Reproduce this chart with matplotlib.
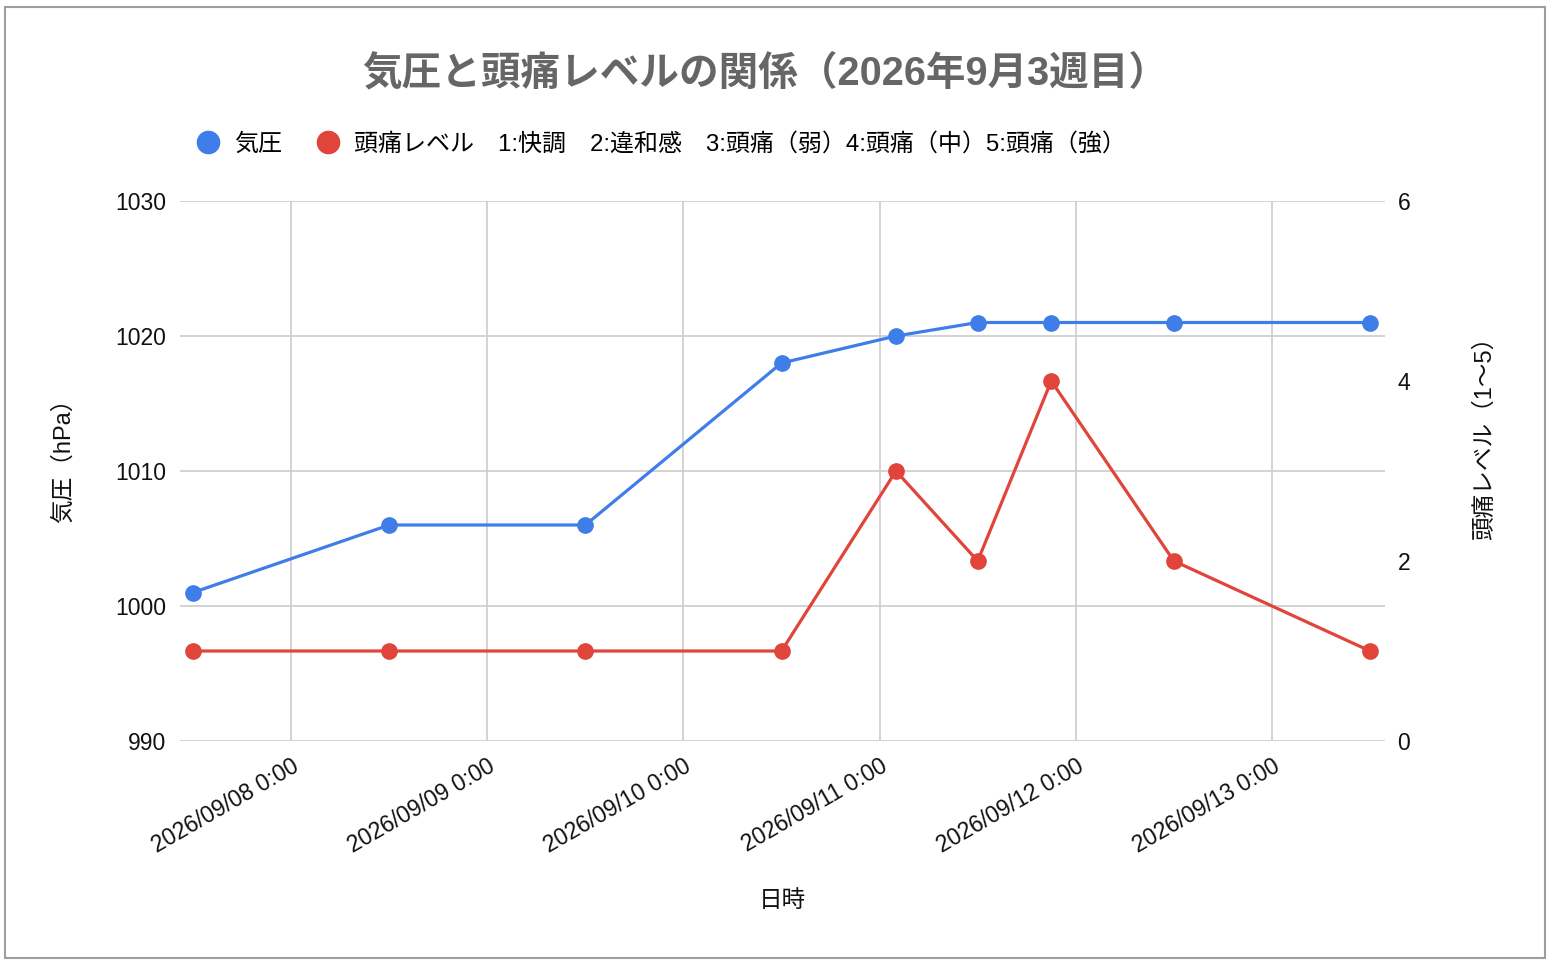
import matplotlib
matplotlib.use("Agg")
import matplotlib.pyplot as plt
import matplotlib.dates as mdates
from matplotlib.lines import Line2D
from matplotlib.patches import Rectangle
from datetime import datetime

plt.rcParams['font.family'] = ['Liberation Sans', 'Noto Sans CJK JP', 'DejaVu Sans']

# data
times = ["2026-09-07 12:00", "2026-09-08 12:00", "2026-09-09 12:00",
         "2026-09-10 12:00", "2026-09-11 02:00", "2026-09-11 12:00",
         "2026-09-11 21:00", "2026-09-12 12:00", "2026-09-13 12:00"]
pressure = [1001, 1006, 1006, 1018, 1020, 1021, 1021, 1021, 1021]
headache = [1, 1, 1, 1, 3, 2, 4, 2, 1]

title = "気圧と頭痛レベルの関係（2026年9月3週目）"
pressure_name = "気圧"
headache_name = "頭痛レベル　1:快調　2:違和感　3:頭痛（弱）4:頭痛（中）5:頭痛（強）"

x = [datetime.strptime(t, "%Y-%m-%d %H:%M") for t in times]

blue = "#3f7ee8"
red = "#e0443b"
W, H = 1552, 968

fig = plt.figure(figsize=(W / 100, H / 100), dpi=100)
fig.patches.append(Rectangle((5 / W, 10 / H), 1540 / W, 951 / H, transform=fig.transFigure,
                             fill=False, edgecolor="#9e9e9e", linewidth=1.5))

ax = fig.add_axes([180 / W, 1 - 741 / H, (1385 - 180) / W, (741 - 201) / H])
ax2 = ax.twinx()

ax.plot(x, pressure, color=blue, lw=2.3, marker="o", ms=11, zorder=3)
ax2.plot(x, headache, color=red, lw=2.3, marker="o", ms=11, zorder=3)

ax.set_xlim(datetime(2026, 9, 7, 10, 24), datetime(2026, 9, 13, 13, 50))
ax.set_ylim(990, 1030)
ax.set_yticks([990, 1000, 1010, 1020, 1030])
ax2.set_ylim(0, 6)
ax2.set_yticks([0, 2, 4, 6])

ax.xaxis.set_major_locator(mdates.DayLocator())
ax.xaxis.set_major_formatter(mdates.DateFormatter("%Y/%m/%d 0:00"))
ax.grid(True, color="#cccccc", lw=1.2)
ax.set_axisbelow(True)

for a in (ax, ax2):
    for s in a.spines.values():
        s.set_visible(False)
    a.tick_params(length=0, labelsize=16.5, labelcolor="#111111")
ax.tick_params(axis="y", pad=10)
ax2.tick_params(axis="y", pad=9)
ax.tick_params(axis="x", pad=10)
for lab in ax.get_xticklabels():
    lab.set_rotation(30)
    lab.set_ha("right")
    lab.set_va("top")
    lab.set_rotation_mode("anchor")

ax.set_ylabel("気圧（hPa）", fontsize=17, color="#111111")
ax2.set_ylabel("頭痛レベル（1〜5）", fontsize=17, color="#111111")
ax.yaxis.set_label_coords((75 - 180) / 1205, (741 - 455) / 540)
ax2.yaxis.set_label_coords((1473 - 180) / 1205, (741 - 432) / 540)
ax.set_xlabel("日時", fontsize=17, color="#111111", labelpad=23)

fig.text(765 / W, 1 - 73 / H, title, ha="center", va="center",
         fontsize=28.5, fontweight="bold", color="#666666")

handles = [Line2D([], [], ls="none", marker="o", ms=16, color=blue),
           Line2D([], [], ls="none", marker="o", ms=16, color=red)]
fig.legend(handles, [pressure_name, headache_name], loc="center left",
           bbox_to_anchor=(174 / W, 1 - 144 / H), ncol=2, frameon=False,
           fontsize=17.3, handlelength=1.0, handletextpad=0.6, columnspacing=1.4)

fig.savefig("out.png", dpi=100, facecolor="white")
